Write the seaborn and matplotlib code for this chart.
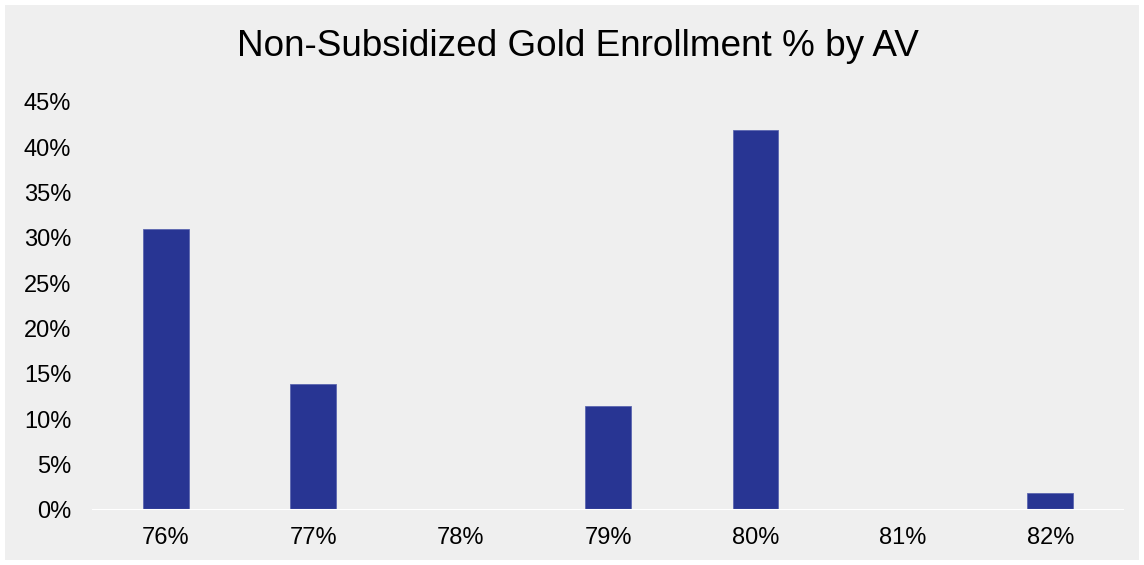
import matplotlib
matplotlib.use("Agg")
import matplotlib.pyplot as plt
import seaborn as sns
import pandas as pd

# data
av_levels = ["76%", "77%", "78%", "79%", "80%", "81%", "82%"]
enroll_pct = [31.0, 13.9, 0.0, 11.5, 41.9, 0.0, 1.9]
y_ticks = [0, 5, 10, 15, 20, 25, 30, 35, 40, 45]

BG = "#efefef"
BAR = "#283593"

sns.set_theme(style="white")
plt.rcParams["font.family"] = ["Liberation Sans", "DejaVu Sans"]

df = pd.DataFrame({"av": av_levels, "pct": enroll_pct})

fig = plt.figure(figsize=(11.44, 5.65), dpi=100)
fig.patch.set_facecolor(BG)
fig.patch.set_edgecolor("white")
fig.patch.set_linewidth(7.2)

W, H = 1144, 565
ax = fig.add_axes([92 / W, 55 / H, (1124 - 92) / W, (510 - 102) / H])
ax.set_facecolor(BG)

sns.barplot(data=df, x="av", y="pct", color=BAR, width=0.31, saturation=1,
            edgecolor="#5c67b0", linewidth=0.6, ax=ax)

ax.set_xlim(-0.5, len(av_levels) - 0.5)
ax.set_ylim(0, 45)
ax.set_yticks(y_ticks)
ax.set_yticklabels([f"{t}%" for t in y_ticks])
ax.axhline(0, color="white", linewidth=1.5, zorder=5)
ax.set_xlabel("")
ax.set_ylabel("")
sns.despine(ax=ax, left=True, bottom=True)
ax.tick_params(axis="y", length=0, pad=15, labelsize=17, labelcolor="black")
ax.tick_params(axis="x", length=0, pad=12, labelsize=17, labelcolor="black")
ax.grid(False)

fig.text(578 / W, 1 - 47 / H, "Non-Subsidized Gold Enrollment % by AV",
         ha="center", va="center", fontsize=26.6, color="black")

fig.savefig("out.png", dpi=100, facecolor=fig.get_facecolor(),
            edgecolor=fig.get_edgecolor())
